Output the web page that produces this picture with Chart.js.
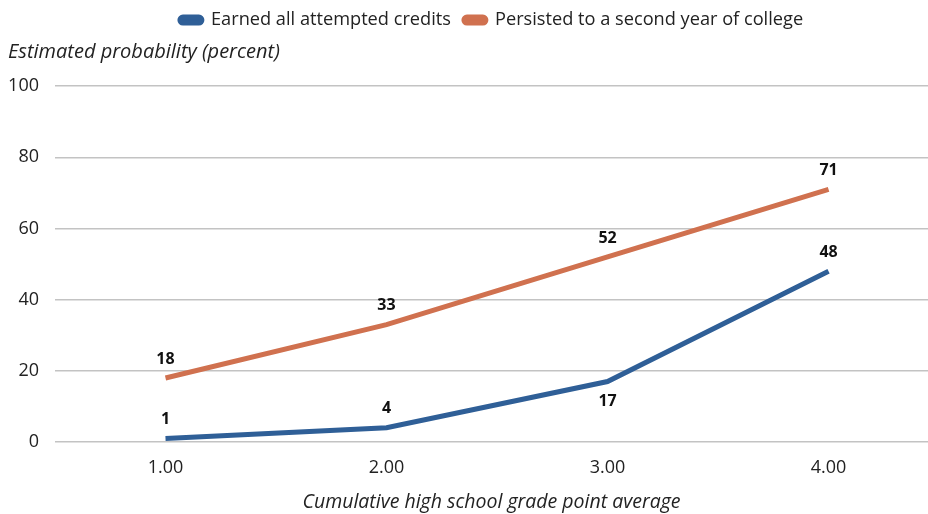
<!DOCTYPE html>
<html>
<head>
  <title>Estimated probability by GPA</title>
  <style>
    body { margin: 0; background: #fff; }
    #wrap { width: 928px; height: 514px; }
  </style>
</head>
<body>
  <div id="wrap"><canvas id="chart"></canvas></div>

  <script src="https://cdn.jsdelivr.net/npm/chart.js"></script>
  <script>
    const gpaLabels = ['1.00', '2.00', '3.00', '4.00'];
    const earnedCredits = [1, 4, 17, 48];
    const persisted = [18, 33, 52, 71];
    const yTicks = [0, 20, 40, 60, 80, 100];

    const FONT = "'Open Sans', 'DejaVu Sans', sans-serif";
    const BLUE = '#2f5f97';
    const ORANGE = '#d0714f';

    // draws the bold value labels above (or below) each point
    const valueLabels = {
      id: 'valueLabels',
      afterDatasetsDraw(chart) {
        const ctx = chart.ctx;
        ctx.save();
        ctx.font = "bold 16px " + FONT;
        ctx.fillStyle = '#111';
        ctx.textAlign = 'center';
        ctx.textBaseline = 'middle';
        chart.data.datasets.forEach((ds, di) => {
          const meta = chart.getDatasetMeta(di);
          meta.data.forEach((pt, i) => {
            const below = (ds.labelsBelow || []).includes(i);
            ctx.fillText(String(ds.data[i].y), pt.x, pt.y + (below ? 20 : -19));
          });
        });
        ctx.restore();
      }
    };

    const toPoints = vals => vals.map((v, i) => ({ x: parseFloat(gpaLabels[i]), y: v }));

    new Chart(document.getElementById('chart'), {
      type: 'line',
      data: {
        datasets: [
          {
            label: 'Earned all attempted credits',
            data: toPoints(earnedCredits),
            borderColor: BLUE,
            backgroundColor: BLUE,
            borderWidth: 5,
            pointRadius: 0,
            labelsBelow: [2]
          },
          {
            label: 'Persisted to a second year of college',
            data: toPoints(persisted),
            borderColor: ORANGE,
            backgroundColor: ORANGE,
            borderWidth: 5,
            pointRadius: 0
          }
        ]
      },
      options: {
        responsive: true,
        maintainAspectRatio: false,
        animation: false,
        layout: { padding: { left: 8, right: 0, top: -2, bottom: 0 } },
        plugins: {
          legend: {
            position: 'top',
            fullSize: false,
            weight: 1000,
            labels: {
              font: { family: FONT, size: 18.2 },
              color: '#222',
              boxWidth: 22,
              boxHeight: 6,
              useBorderRadius: true,
              borderRadius: 3,
              padding: 13
            }
          },
          title: {
            display: true,
            text: 'Estimated probability (percent)',
            align: 'start',
            position: 'top',
            weight: 500,
            color: '#222',
            font: { family: FONT, size: 20, style: 'italic', weight: 'normal' },
            padding: { top: 1, bottom: 22 }
          },
          tooltip: { enabled: false }
        },
        scales: {
          x: {
            type: 'linear',
            min: 0.5,
            max: 4.45,
            afterBuildTicks: axis => {
              axis.ticks = gpaLabels.map(l => ({ value: parseFloat(l) }));
            },
            grid: { display: false },
            border: { display: false },
            ticks: {
              callback: v => v.toFixed(2),
              font: { family: FONT, size: 18 },
              color: '#222',
              padding: 7
            },
            title: {
              display: true,
              text: 'Cumulative high school grade point average',
              font: { family: FONT, size: 19.5, style: 'italic' },
              color: '#222',
              padding: { top: 5, bottom: 0 }
            }
          },
          y: {
            min: 0,
            max: 100,
            afterBuildTicks: axis => {
              axis.ticks = yTicks.map(v => ({ value: v }));
            },
            afterFit: axis => { axis.width = 47; },
            grid: { color: '#c3c3c3', lineWidth: 1.5, drawTicks: false },
            border: { display: false },
            ticks: {
              font: { family: FONT, size: 18 },
              color: '#222',
              padding: 16
            }
          }
        }
      },
      plugins: [valueLabels]
    });
  </script>
</body>
</html>
